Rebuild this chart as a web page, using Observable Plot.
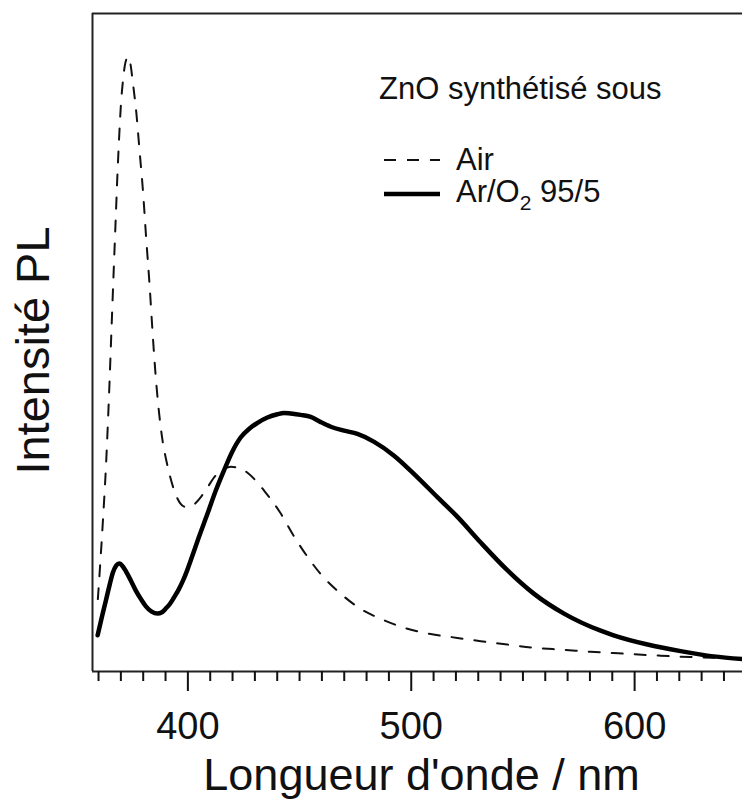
<!DOCTYPE html>
<html>
<head>
<meta charset="utf-8">
<script src="https://cdn.jsdelivr.net/npm/d3@7"></script>
<script src="https://cdn.jsdelivr.net/npm/@observablehq/plot@0.6"></script>
<style>
  html, body { margin: 0; padding: 0; background: #fff; }
  #chart { width: 742px; height: 800px; overflow: hidden; }
</style>
</head>
<body>
<div id="chart"></div>
<script>
// ---- Data ----
const airWavelength = [359.7, 361.8, 363.3, 364.7, 365.8, 366.8, 367.6, 368.4, 369.2, 370.0, 371.0, 372.0, 373.2, 374.3, 375.4, 376.9, 378.4, 379.9, 381.3, 382.9, 384.3, 385.8, 387.2, 388.7, 390.2, 391.6, 393.9, 396.5, 399.1, 402.8, 405.8, 408.8, 412.5, 416.2, 419.3, 422.2, 426.7, 430.4, 434.1, 441.6, 447.4, 453.6, 459.5, 468.5, 477.4, 486.4, 498.3, 508.7, 520.7, 531.1, 543.0, 554.9, 568.4, 580.3, 590.6, 611.6, 625.1, 635.3, 648.3];
const airIntensity = [11, 22, 31, 42, 52, 61, 68, 75, 81, 86, 90, 92.5, 93.4, 92.3, 89.4, 85.0, 79.0, 73.0, 66.0, 58.5, 51.0, 44.0, 39.0, 35.0, 32.3, 30.2, 27.5, 25.6, 25.0, 25.4, 26.5, 28.0, 29.8, 30.8, 31.1, 31.0, 30.2, 29.0, 27.5, 24.0, 20.6, 17.4, 14.8, 11.8, 9.5, 8.0, 6.5, 5.7, 5.1, 4.6, 4.1, 3.6, 3.3, 3.0, 2.8, 2.4, 2.2, 2.1, 2.0];

const arWavelength = [359.6, 361.5, 363.3, 365.0, 366.4, 367.9, 369.3, 370.8, 372.3, 374.5, 376.7, 379.0, 381.2, 383.8, 386.4, 388.4, 390.2, 392.0, 393.7, 395.8, 397.8, 399.6, 401.3, 404.9, 408.8, 412.5, 416.1, 419.7, 423.7, 427.5, 431.2, 435.6, 440.1, 443.0, 446.1, 450.5, 455.0, 459.5, 464.0, 470.0, 475.9, 483.4, 492.3, 501.3, 511.7, 520.7, 531.1, 543.0, 555.0, 568.4, 584.8, 590.6, 605.8, 620.6, 635.3, 648.3];
const arIntensity = [5.5, 8.3, 10.8, 13.2, 15.0, 16.1, 16.4, 16.0, 15.2, 13.8, 12.3, 11.0, 9.9, 9.1, 8.8, 9.0, 9.6, 10.3, 11.2, 12.4, 13.8, 15.3, 16.9, 20.4, 24.0, 27.5, 30.5, 33.3, 35.6, 36.9, 37.8, 38.6, 39.1, 39.3, 39.2, 39.0, 38.7, 37.9, 37.2, 36.6, 36.1, 34.9, 32.8, 30.0, 26.5, 23.5, 19.6, 15.4, 11.8, 8.8, 6.2, 5.5, 4.1, 3.1, 2.3, 1.9];

const majorTicks = [400, 500, 600];
const minorTicks = [360, 370, 380, 390, 410, 420, 430, 440, 450, 460, 470, 480, 490, 510, 520, 530, 540, 550, 560, 570, 580, 590, 610, 620, 630, 640];
const xDomain = [357.3, 648.3];
const yDomain = [0, 100];

const xLabel = "Longueur d'onde / nm";
const yLabel = "Intensité PL";
const legendTitle = "ZnO synthétisé sous";
const seriesNames = ["Air", "Ar/O2 95/5"];

// ---- Tables ----
const air = airWavelength.map((w, i) => ({w, v: airIntensity[i]}));
const ar = arWavelength.map((w, i) => ({w, v: arIntensity[i]}));

const FONT = "'Liberation Sans', Arial, Helvetica, sans-serif";
const INK = "#111";

// Legend drawn as a custom mark inside the plot frame
function legendMark(index, scales, values, dimensions) {
  const g = d3.create("svg:g")
    .attr("font-family", FONT)
    .attr("text-anchor", "start")
    .attr("fill", INK);
  const x0 = dimensions.marginLeft + 287;   // left of legend block
  const lineX1 = x0 + 5, lineX2 = x0 + 61, textX = x0 + 77;
  g.append("text").attr("x", x0).attr("y", 99).attr("font-size", 31).text(legendTitle);
  // Air (dashed)
  g.append("line").attr("x1", lineX1).attr("x2", lineX2).attr("y1", 160).attr("y2", 160)
    .attr("stroke", INK).attr("stroke-width", 2).attr("stroke-dasharray", "12,11");
  g.append("text").attr("x", textX).attr("y", 170).attr("font-size", 31).text(seriesNames[0]);
  // Ar/O2 (solid)
  g.append("line").attr("x1", lineX1).attr("x2", lineX2).attr("y1", 194).attr("y2", 194)
    .attr("stroke", "#000").attr("stroke-width", 4.5);
  const t = g.append("text").attr("x", textX).attr("y", 202).attr("font-size", 31);
  const m = seriesNames[1].match(/^(.*O)2(.*)$/);
  t.append("tspan").text(m[1]);
  t.append("tspan").attr("font-size", 21).attr("dy", 8).text("2");
  t.append("tspan").attr("dy", -8).text(m[2]);
  return g.node();
}

const chart = Plot.plot({
  width: 742,
  height: 800,
  marginLeft: 92,
  marginRight: 0,
  marginTop: 13,
  marginBottom: 129,
  style: {fontFamily: FONT, background: "white", color: INK, overflow: "visible"},
  x: {domain: xDomain},
  y: {domain: yDomain, axis: null},
  marks: [
    Plot.ruleX([xDomain[0]], {stroke: "#222", strokeWidth: 2}),
    Plot.ruleY(yDomain, {stroke: "#222", strokeWidth: 2}),
    Plot.axisX({ticks: minorTicks, tickSize: 10, tickFormat: () => "", strokeWidth: 2, label: null}),
    Plot.axisX({ticks: majorTicks, tickSize: 20, tickPadding: 21, fontSize: 38, strokeWidth: 2, label: null}),
    Plot.line(air, {x: "w", y: "v", stroke: INK, strokeWidth: 2, strokeDasharray: "11,12", curve: "monotone-x"}),
    Plot.line(ar, {x: "w", y: "v", stroke: "#000", strokeWidth: 4.5, curve: "monotone-x"}),
    Plot.text([xLabel], {frameAnchor: "bottom", textAnchor: "middle", dx: 4, dy: 118, lineAnchor: "bottom", fontSize: 45, fill: INK}),
    Plot.text([yLabel], {frameAnchor: "left", textAnchor: "middle", rotate: -90, dx: -59, dy: 8, fontSize: 47, fill: INK}),
    legendMark
  ]
});

document.getElementById("chart").appendChild(chart);
</script>
</body>
</html>
